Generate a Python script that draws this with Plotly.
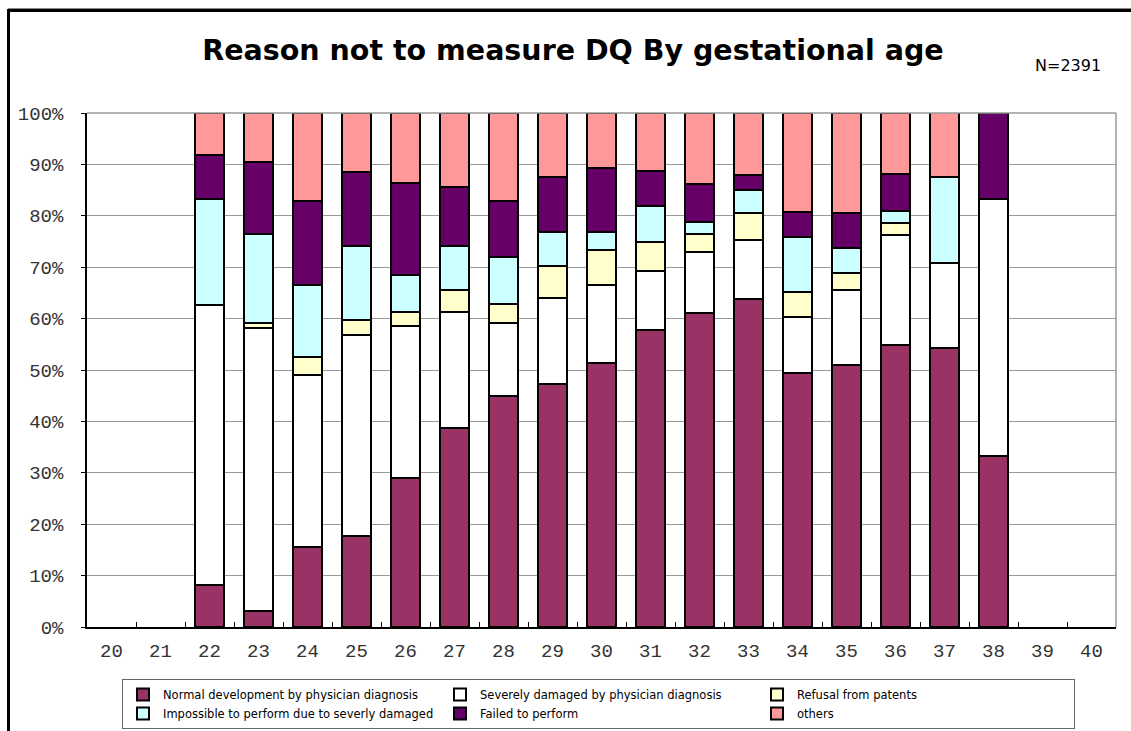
import plotly.graph_objects as go

weeks = [str(w) for w in range(20, 41)]

normal =     [0, 0, 8.2, 3.2, 15.6, 17.8, 28.9, 38.7, 44.9, 47.3, 51.3, 57.7, 61.1, 63.8, 49.4, 50.9, 54.8, 54.2, 33.3, 0, 0]
severe =     [0, 0, 54.4, 54.9, 33.5, 39.1, 29.7, 22.6, 14.3, 16.7, 15.2, 11.6, 11.9, 11.4, 11.0, 14.7, 21.4, 16.7, 50.0, 0, 0]
refusal =    [0, 0, 0, 1.0, 3.5, 2.8, 2.6, 4.2, 3.7, 6.2, 6.9, 5.7, 3.4, 5.3, 4.7, 3.2, 2.4, 0, 0, 0, 0]
impossible = [0, 0, 20.7, 17.3, 13.9, 14.4, 7.2, 8.6, 9.0, 6.6, 3.4, 6.9, 2.3, 4.5, 10.8, 4.9, 2.3, 16.7, 0, 0, 0]
failed =     [0, 0, 8.5, 14.0, 16.3, 14.4, 17.9, 11.6, 11.0, 10.8, 12.5, 6.8, 7.4, 3.0, 4.8, 6.8, 7.3, 0, 16.7, 0, 0]
others =     [0, 0, 8.2, 9.6, 17.2, 11.5, 13.7, 14.3, 17.1, 12.4, 10.7, 11.3, 13.9, 12.0, 19.3, 19.5, 11.8, 12.5, 0, 0, 0]

series_names = [
    "Normal development by physician diagnosis",
    "Severely damaged by physician diagnosis",
    "Refusal from patents",
    "Impossible to perform due to severly damaged",
    "Failed to perform",
    "others",
]
series_values = [normal, severe, refusal, impossible, failed, others]
series_colors = ["#993366", "#FFFFFF", "#FFFFCC", "#CCFFFF", "#660066", "#FF9999"]

fig = go.Figure()
for name, vals, col in zip(series_names, series_values, series_colors):
    fig.add_trace(go.Bar(
        x=weeks,
        y=[v if v else None for v in vals],
        name=name,
        marker=dict(color=col, line=dict(color="black", width=2)),
    ))

# plot area pixel geometry
W, H = 1131, 731
L, R, T, B = 87, 15, 113, 104
pw, ph = W - L - R, H - T - B

def px_x(p):
    return (p - L) / pw

def px_y(p):
    return (H - B - p) / ph

shapes = [
    # top and right plot frame (grey)
    dict(type="line", xref="paper", yref="paper", x0=0, x1=1, y0=1, y1=1,
         line=dict(color="#999999", width=1.5)),
    dict(type="line", xref="paper", yref="paper", x0=1, x1=1, y0=0, y1=1,
         line=dict(color="#999999", width=1.5)),
    # outer chart frame (top and left)
    dict(type="line", xref="paper", yref="paper", x0=px_x(8), x1=px_x(1131), y0=px_y(8.5), y1=px_y(8.5),
         line=dict(color="#888888", width=1)),
    dict(type="line", xref="paper", yref="paper", x0=px_x(8), x1=px_x(1131), y0=px_y(10.5), y1=px_y(10.5),
         line=dict(color="black", width=3)),
    dict(type="line", xref="paper", yref="paper", x0=px_x(8.5), x1=px_x(8.5), y0=px_y(9), y1=px_y(731),
         line=dict(color="black", width=3)),
]

fig.update_layout(
    width=W, height=H,
    barmode="stack",
    bargap=0.39,
    plot_bgcolor="white",
    paper_bgcolor="white",
    margin=dict(l=L, r=R, t=T, b=B, autoexpand=False),
    title=dict(
        text="<b>Reason not to measure DQ By gestational age</b>",
        font=dict(family="DejaVu Sans", size=28.5, color="black"),
        x=px_x(573), xref="paper", xanchor="center",
        y=1 - 50 / H, yanchor="middle",
    ),
    annotations=[dict(
        text="N=2391", xref="paper", yref="paper",
        x=px_x(1068), y=px_y(65), xanchor="center", yanchor="middle",
        showarrow=False, font=dict(family="DejaVu Sans", size=16, color="black"),
    )],
    shapes=shapes,
    xaxis=dict(
        type="category",
        categoryorder="array", categoryarray=weeks,
        showline=True, linecolor="black", linewidth=1.5,
        ticks="inside", tickson="boundaries", ticklen=5, tickcolor="black",
        ticklabelstandoff=5,
        tickfont=dict(family="Liberation Mono", size=19, color="#333333"),
        showgrid=False,
    ),
    yaxis=dict(
        range=[0, 100],
        tickvals=list(range(0, 101, 10)),
        ticktext=[f"{v}%" for v in range(0, 101, 10)],
        showline=True, linecolor="black", linewidth=1.5,
        ticks="outside", ticklen=4, tickcolor="black",
        ticklabelstandoff=14,
        tickfont=dict(family="Liberation Mono", size=19, color="#333333"),
        showgrid=True, gridcolor="#999999", gridwidth=1,
        zeroline=False,
    ),
    legend=dict(
        orientation="h",
        x=px_x(122), xanchor="left",
        y=px_y(679), yanchor="top",
        entrywidth=272, entrywidthmode="pixels",
        bordercolor="#666666", borderwidth=1,
        font=dict(family="DejaVu Sans", size=11.5, color="black"),
        traceorder="normal",
        tracegroupgap=0,
    ),
)

fig.write_html(
    "out.html",
    config={"displayModeBar": False},
    post_script="document.body.style.margin='0';",
)
